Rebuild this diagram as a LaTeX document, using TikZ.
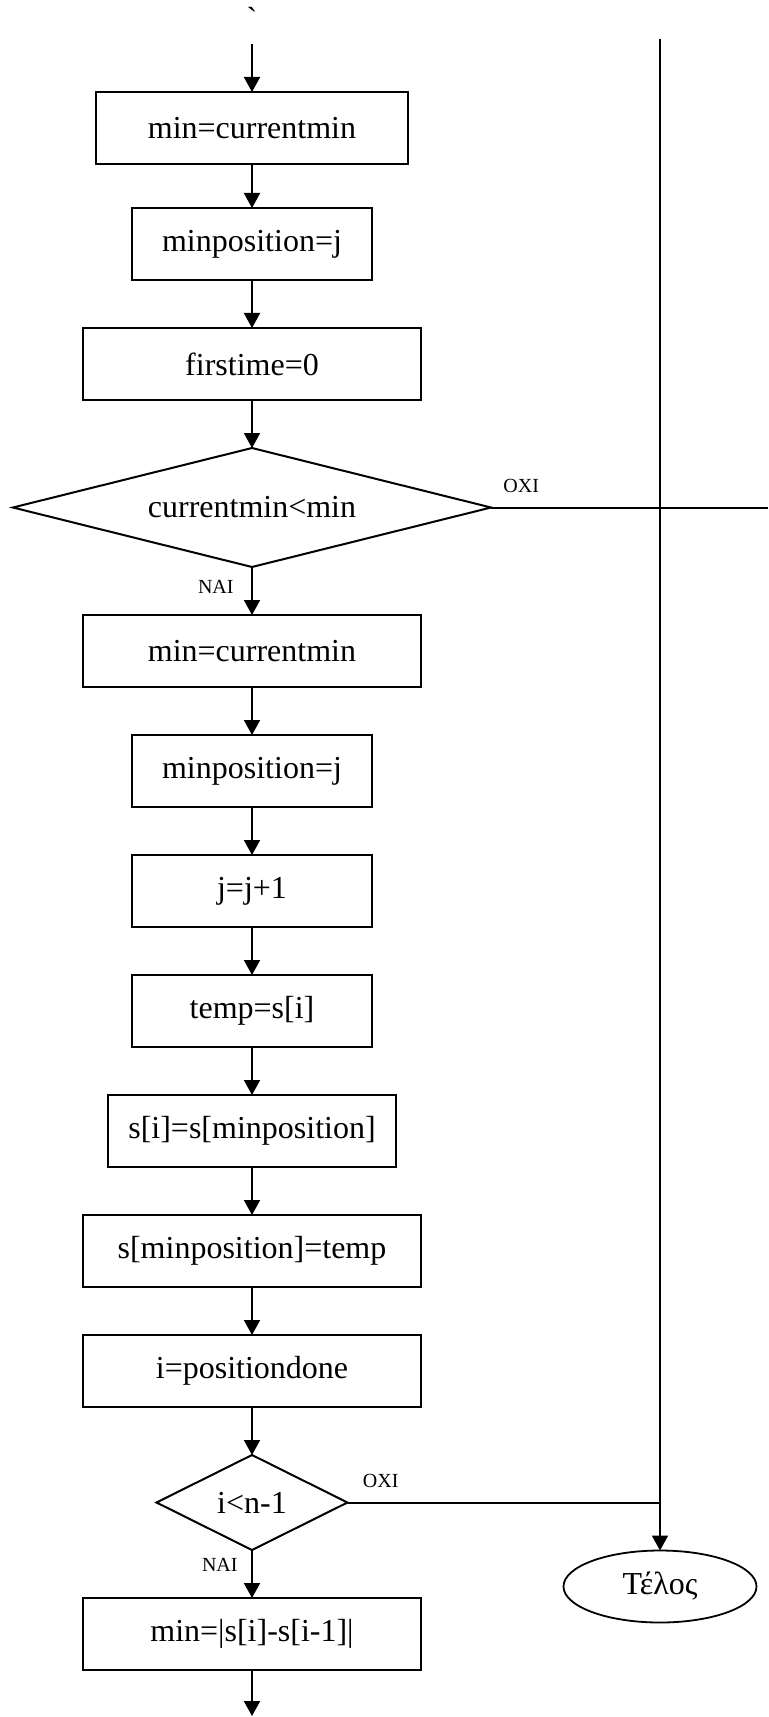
\documentclass[tikz,border=0pt]{standalone}
\usepackage{fontspec}
\setmainfont{Liberation Serif}
\newfontfamily\plainserif{Liberation Serif}
\usepackage{tikz}
\usetikzlibrary{shapes.geometric, arrows.meta, positioning}
\tikzstyle{wideblock} = [
rectangle,
minimum width=168.5pt,
minimum height=36pt,
inner sep=0pt,
outer sep=0pt,
text centered,
draw=black,
line width=1pt,
font=\fontsize{16pt}{19pt}\selectfont
]
\tikzstyle{midblock} = [
rectangle,
minimum width=156pt,
minimum height=36pt,
inner sep=0pt,
outer sep=0pt,
text centered,
draw=black,
line width=1pt,
font=\fontsize{16pt}{19pt}\selectfont
]
\tikzstyle{longblock} = [
rectangle,
minimum width=144pt,
minimum height=36pt,
inner sep=0pt,
outer sep=0pt,
text centered,
draw=black,
line width=1pt,
font=\fontsize{16pt}{19pt}\selectfont
]
\tikzstyle{smallblock} = [
rectangle,
minimum width=120pt,
minimum height=36pt,
inner sep=0pt,
outer sep=0pt,
text centered,
draw=black,
line width=1pt,
font=\fontsize{16pt}{19pt}\selectfont
]
\tikzstyle{bigdecision} = [
diamond,
shape aspect=4,
minimum width=239pt,
minimum height=59.5pt,
inner sep=0pt,
outer sep=0pt,
draw=black,
line width=1pt,
font=\fontsize{16pt}{19pt}\selectfont
]
\tikzstyle{smalldecision} = [
diamond,
shape aspect=2,
minimum width=95.5pt,
minimum height=47.5pt,
inner sep=0pt,
outer sep=0pt,
draw=black,
line width=1pt,
font=\fontsize{16pt}{19pt}\selectfont
]
\tikzstyle{terminal} = [
ellipse,
minimum width=96.5pt,
minimum height=36pt,
inner sep=0pt,
outer sep=0pt,
draw=black,
line width=0.9pt,
font=\fontsize{16pt}{19pt}\selectfont
]
\tikzstyle{answer} = [
inner sep=0pt,
font=\fontsize{10pt}{12pt}\selectfont
]
\tikzstyle{arrow} = [
line width=1pt,
-{Triangle[length=7.5pt,width=8pt]},
draw=black
]
\tikzstyle{line} = [
line width=1pt,
draw=black
]

\begin{document}
\begin{tikzpicture}[node distance=24pt]

			\useasboundingbox (-126pt,0pt) rectangle (258pt,-858.5pt);

			\node (tick) [anchor=base, font=\plainserif\fontsize{16pt}{19pt}\selectfont] at (0,-15pt) {`};

			\coordinate (start) at (0,-22pt);
			\coordinate (top) at (204pt,-19.5pt);
			\coordinate (rim) at (258pt,0pt);
			\coordinate (more) at (0,-858pt);

			\node (n1) [midblock] at (0,-64pt) {min=currentmin};

			\node (n2) [smallblock, below=22pt of n1] {minposition=j};

			\node (n3) [wideblock, below=of n2] {firstime=0};

			\node (d1) [bigdecision, below=of n3] {currentmin<min};

			\node (n4) [wideblock, below=of d1] {min=currentmin};

			\node (n5) [smallblock, below=of n4] {minposition=j};

			\node (n6) [smallblock, below=of n5] {j=j+1};

			\node (n7) [smallblock, below=of n6] {temp=s[i]};

			\node (n8) [longblock, below=of n7] {s[i]=s[minposition]};

			\node (n9) [wideblock, below=of n8] {s[minposition]=temp};

			\node (n10) [wideblock, below=of n9] {i=positiondone};

			\node (d2) [smalldecision, below=of n10] {i<n-1};

			\node (n11) [wideblock, below=of d2] {min=|s[i]-s[i-1]|};

			\coordinate (join) at (d2.east -| top);
			\coordinate (ox1) at (d1.east -| rim);

			\node (end) [terminal, below=of join] {Τέλος};

			\node (no1) [answer, above right=7pt and 6pt of d1.east] {ΟΧΙ};
			\node (yes1) [answer, below left=6.5pt and 9pt of d1.south] {ΝΑΙ};
			\node (no2) [answer, above right=7pt and 7.5pt of d2.east] {ΟΧΙ};
			\node (yes2) [answer, below left=4pt and 7pt of d2.south] {ΝΑΙ};

			\draw [arrow] (start) -- (n1);
			\draw [arrow] (n1) -- (n2);
			\draw [arrow] (n2) -- (n3);
			\draw [arrow] (n3) -- (d1);
			\draw [arrow] (d1) -- (n4);
			\draw [arrow] (n4) -- (n5);
			\draw [arrow] (n5) -- (n6);
			\draw [arrow] (n6) -- (n7);
			\draw [arrow] (n7) -- (n8);
			\draw [arrow] (n8) -- (n9);
			\draw [arrow] (n9) -- (n10);
			\draw [arrow] (n10) -- (d2);
			\draw [arrow] (d2) -- (n11);
			\draw [arrow] (n11) -- (more);

			\draw [line] (d1.east) -- (ox1);
			\draw [line] (top) -- (join);
			\draw [line] (d2.east) -- (join);
			\draw [arrow] (join) -- (end);

		\end{tikzpicture}
\end{document}
